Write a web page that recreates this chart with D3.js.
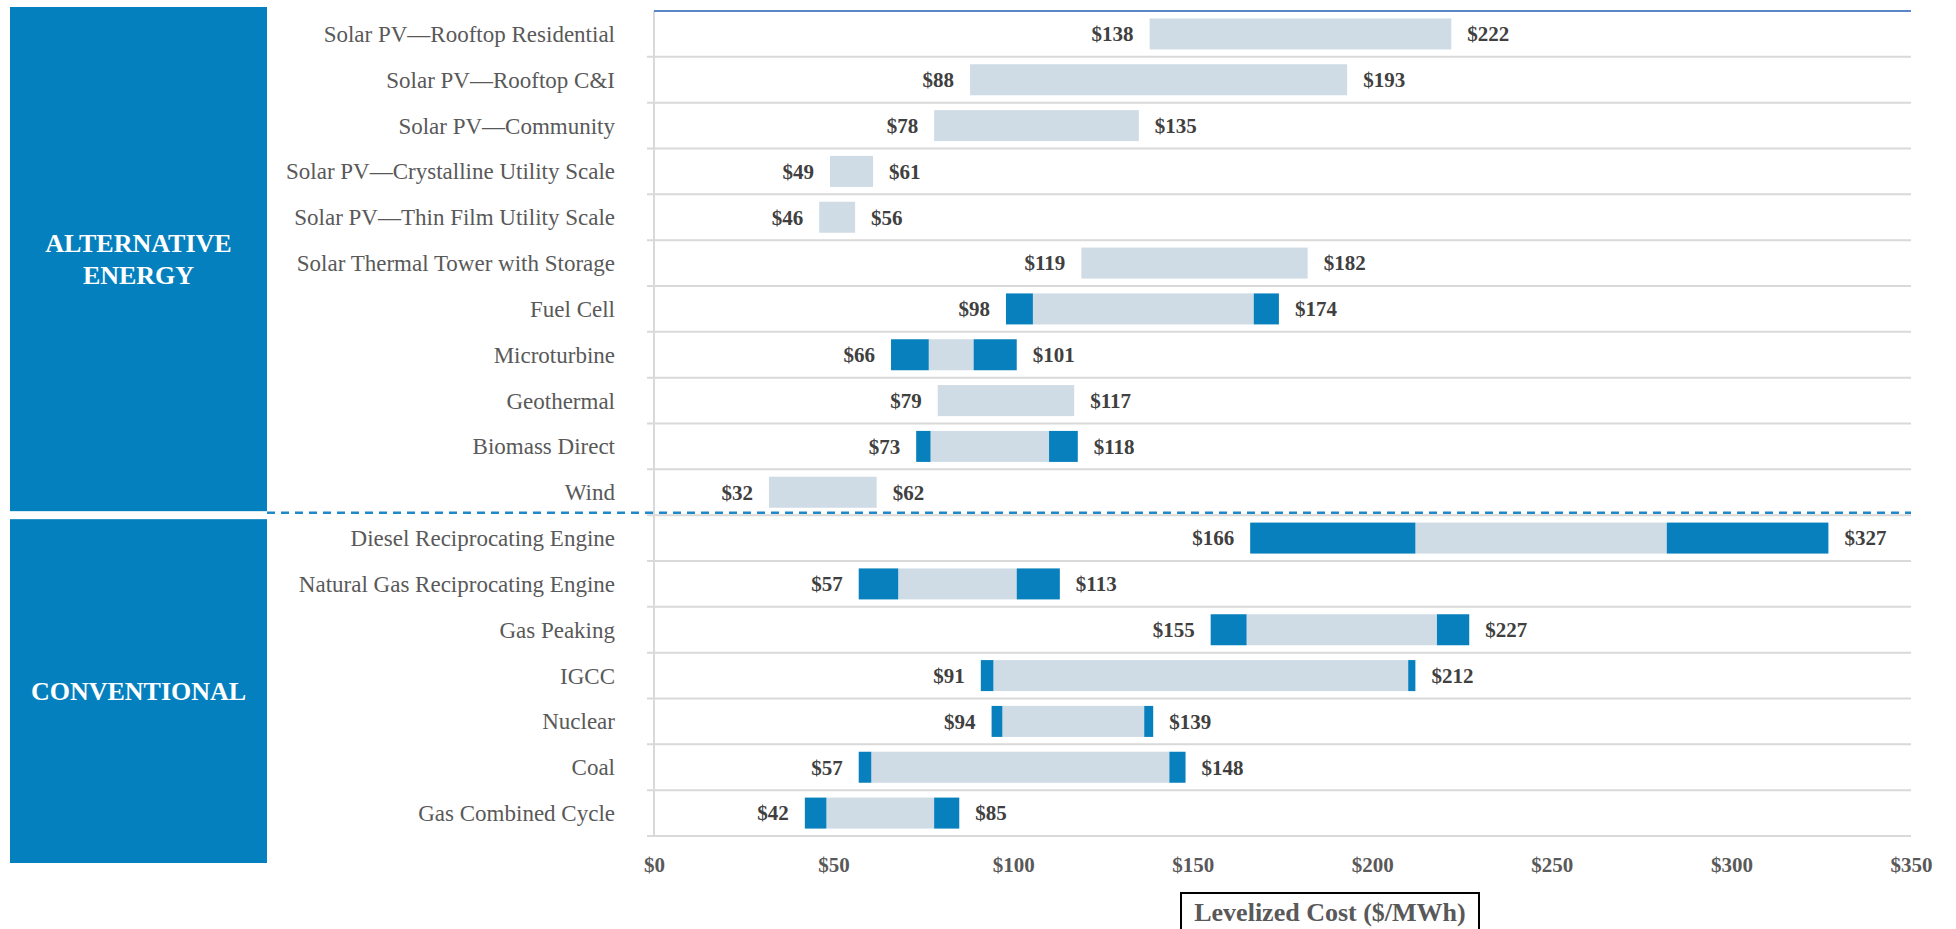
<!DOCTYPE html>
<html>
<head>
<meta charset="utf-8">
<script src="https://cdn.jsdelivr.net/npm/d3@7"></script>
<style>
  body { margin: 0; background: #fff; }
  svg text { font-family: "Liberation Serif", "Times New Roman", serif; }
</style>
</head>
<body>
<svg id="chart" width="1956" height="929"></svg>
<script>
// data (levelized cost, $/MWh)
const categories = [
  "Solar PV\u2014Rooftop Residential",
  "Solar PV\u2014Rooftop C&I",
  "Solar PV\u2014Community",
  "Solar PV\u2014Crystalline Utility Scale",
  "Solar PV\u2014Thin Film Utility Scale",
  "Solar Thermal Tower with Storage",
  "Fuel Cell",
  "Microturbine",
  "Geothermal",
  "Biomass Direct",
  "Wind",
  "Diesel Reciprocating Engine",
  "Natural Gas Reciprocating Engine",
  "Gas Peaking",
  "IGCC",
  "Nuclear",
  "Coal",
  "Gas Combined Cycle",
];
const lows = [138, 88, 78, 49, 46, 119, 98, 66, 79, 73, 32, 166, 57, 155, 91, 94, 57, 42];
const highs = [222, 193, 135, 61, 56, 182, 174, 101, 117, 118, 62, 327, 113, 227, 212, 139, 148, 85];
// where the dark low-end segment stops / the dark high-end segment starts
const lowSegEnd = [138, 88, 78, 49, 46, 119, 105.5, 76.5, 79, 77, 32, 212, 68, 165, 94.5, 97, 60.5, 48];
const highSegStart = [222, 193, 135, 61, 56, 182, 167, 89, 117, 110, 62, 282, 101, 218, 210, 136.5, 143.5, 78];

const groupNames = [["ALTERNATIVE", "ENERGY"], ["CONVENTIONAL"]];
const groupFirst = ["Solar PV\u2014Rooftop Residential", "Diesel Reciprocating Engine"];
const groupLast = ["Wind", "Gas Combined Cycle"];

const xTicks = [0, 50, 100, 150, 200, 250, 300, 350];
const xTitle = "Levelized Cost ($/MWh)";

const DARK = "#0780bd";
const LIGHT = "#cfdce6";
const GRID = "#d9d9d9";

const svg = d3.select("#chart");

const plotLeft = 654;
const plotRight = 1911;
const plotTop = 11;
const plotBottom = 836;

const x = d3.scaleLinear().domain([0, 350]).range([plotLeft, plotRight]);
const y = d3.scaleBand().domain(categories).range([plotTop, plotBottom]).padding(0);
const step = y.step();
const barH = 31;

const rows = categories.map((c, i) => ({
  name: c,
  low: lows[i],
  high: highs[i],
  lowEnd: lowSegEnd[i],
  highStart: highSegStart[i],
}));

// horizontal grid lines at every row boundary
svg
  .append("g")
  .selectAll("line")
  .data(categories)
  .enter()
  .append("line")
  .attr("x1", plotLeft - 7)
  .attr("x2", plotRight)
  .attr("y1", (c) => y(c) + step)
  .attr("y2", (c) => y(c) + step)
  .attr("stroke", GRID)
  .attr("stroke-width", 2);

// left axis line
svg
  .append("line")
  .attr("x1", plotLeft)
  .attr("x2", plotLeft)
  .attr("y1", plotTop)
  .attr("y2", plotBottom)
  .attr("stroke", GRID)
  .attr("stroke-width", 2);

// top blue rule
svg
  .append("line")
  .attr("x1", plotLeft)
  .attr("x2", plotRight)
  .attr("y1", plotTop)
  .attr("y2", plotTop)
  .attr("stroke", "#5b87c9")
  .attr("stroke-width", 2);

// group boxes on the left
groupNames.forEach((lines, gi) => {
  const isFirst = gi === 0;
  const top = isFirst ? y(groupFirst[gi]) - 4 : y(groupFirst[gi]) + 4;
  const bottom = isFirst ? y(groupLast[gi]) + step - 4 : y(groupLast[gi]) + step + 27;
  svg
    .append("rect")
    .attr("x", 10)
    .attr("y", top)
    .attr("width", 257)
    .attr("height", bottom - top)
    .attr("fill", "#0580be");
  const mid = (top + bottom) / 2;
  const lh = 32;
  lines.forEach((t, li) => {
    svg
      .append("text")
      .attr("x", 138.5)
      .attr("y", mid + (li - (lines.length - 1) / 2) * lh)
      .attr("dy", "0.35em")
      .attr("text-anchor", "middle")
      .attr("fill", "#fff")
      .attr("font-size", 26)
      .attr("font-weight", "bold")
      .text(t);
  });
});

// dashed separator between the two groups
const sepY = y(groupFirst[1]) - 2.5;
svg
  .append("line")
  .attr("x1", 267)
  .attr("x2", plotRight)
  .attr("y1", sepY)
  .attr("y2", sepY)
  .attr("stroke", "#2088c8")
  .attr("stroke-width", 2.5)
  .attr("stroke-dasharray", "8 6");

// category labels
svg
  .append("g")
  .selectAll("text")
  .data(categories)
  .enter()
  .append("text")
  .attr("x", 615)
  .attr("y", (c) => y(c) + step / 2)
  .attr("dy", "0.35em")
  .attr("text-anchor", "end")
  .attr("fill", "#595959")
  .attr("font-size", 23)
  .text((c) => c);

// bars: dark low segment, light middle, dark high segment
const barY = (d) => y(d.name) + (step - barH) / 2;
const bars = svg.append("g");

bars
  .selectAll("rect.mid")
  .data(rows)
  .enter()
  .append("rect")
  .attr("class", "mid")
  .attr("x", (d) => x(d.lowEnd))
  .attr("y", barY)
  .attr("width", (d) => x(d.highStart) - x(d.lowEnd))
  .attr("height", barH)
  .attr("fill", LIGHT);

bars
  .selectAll("rect.lo")
  .data(rows.filter((d) => d.lowEnd > d.low))
  .enter()
  .append("rect")
  .attr("class", "lo")
  .attr("x", (d) => x(d.low))
  .attr("y", barY)
  .attr("width", (d) => x(d.lowEnd) - x(d.low))
  .attr("height", barH)
  .attr("fill", DARK);

bars
  .selectAll("rect.hi")
  .data(rows.filter((d) => d.highStart < d.high))
  .enter()
  .append("rect")
  .attr("class", "hi")
  .attr("x", (d) => x(d.highStart))
  .attr("y", barY)
  .attr("width", (d) => x(d.high) - x(d.highStart))
  .attr("height", barH)
  .attr("fill", DARK);

// value labels
const labels = svg.append("g").attr("font-size", 21).attr("font-weight", "bold").attr("fill", "#404040");
labels
  .selectAll("text.lo")
  .data(rows)
  .enter()
  .append("text")
  .attr("x", (d) => x(d.low) - 16)
  .attr("y", (d) => y(d.name) + step / 2)
  .attr("dy", "0.35em")
  .attr("text-anchor", "end")
  .text((d) => "$" + d.low);
labels
  .selectAll("text.hi")
  .data(rows)
  .enter()
  .append("text")
  .attr("x", (d) => x(d.high) + 16)
  .attr("y", (d) => y(d.name) + step / 2)
  .attr("dy", "0.35em")
  .text((d) => "$" + d.high);

// x axis
const xAxis = svg
  .append("g")
  .attr("transform", `translate(0, ${plotBottom})`)
  .call(
    d3
      .axisBottom(x)
      .tickValues(xTicks)
      .tickFormat((d) => "$" + d)
      .tickSize(0)
      .tickPadding(21)
  );
xAxis.select(".domain").remove();
xAxis
  .selectAll("text")
  .attr("font-family", "Liberation Serif, serif")
  .attr("font-size", 21)
  .attr("font-weight", "bold")
  .attr("fill", "#595959");

// axis title in a box
svg
  .append("rect")
  .attr("x", 1181)
  .attr("y", 893)
  .attr("width", 298)
  .attr("height", 50)
  .attr("fill", "#fff")
  .attr("stroke", "#000")
  .attr("stroke-width", 2);
svg
  .append("text")
  .attr("x", 1330)
  .attr("y", 921)
  .attr("text-anchor", "middle")
  .attr("fill", "#595959")
  .attr("font-size", 26)
  .attr("font-weight", "bold")
  .text(xTitle);
</script>
</body>
</html>
